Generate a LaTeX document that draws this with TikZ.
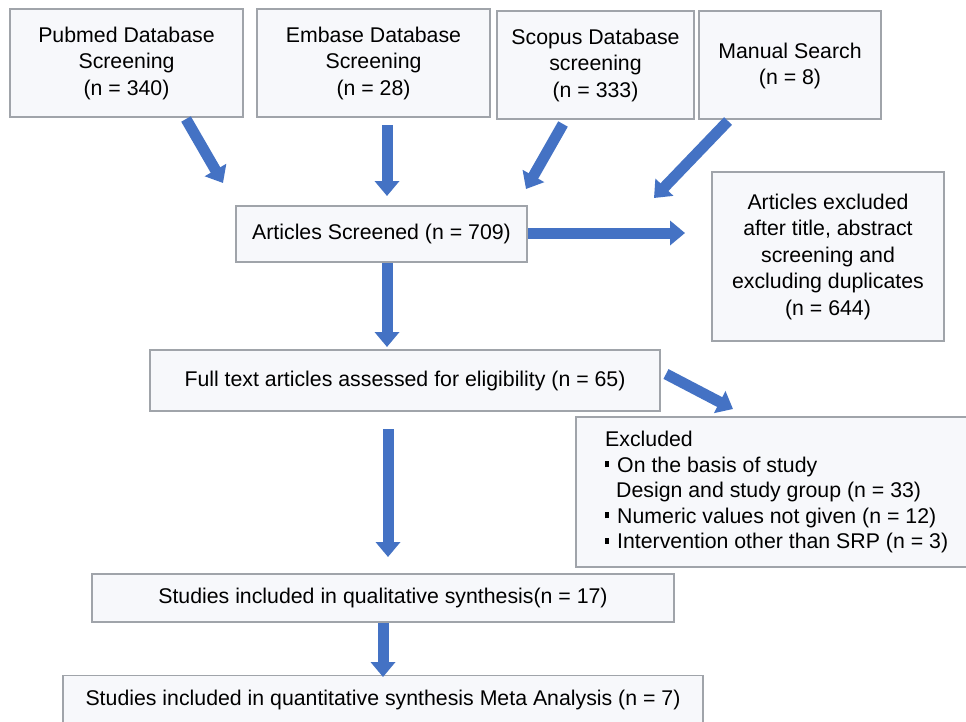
\documentclass[tikz,border=0pt]{standalone}
\usepackage{fontspec}
\setmainfont{Liberation Sans}
\usetikzlibrary{arrows.meta}
\definecolor{boxfill}{RGB}{247,248,251}
\definecolor{boxline}{RGB}{160,164,170}
\definecolor{arrblue}{RGB}{68,114,196}
\tikzset{
  flowbox/.style={draw=boxline, line width=1.3pt, fill=boxfill, align=center,
    inner sep=0pt, font=\fontsize{21.3}{26.5}\selectfont},
  blockarrow/.style={draw=arrblue, line width=11pt,
    -{Triangle[width=24pt,length=15pt]}},
}
\newcommand{\sqbul}{\rule[0.22em]{4pt}{6pt}\hspace{8pt}}
\begin{document}
\begin{tikzpicture}[x=1pt,y=-1pt]
\useasboundingbox (0,0) rectangle (966,721);
\fill[white] (0,0) rectangle (966,721);
% boxes
\node[flowbox, minimum width=233, minimum height=108] (pub) at (126.5,63)
  {Pubmed Database\\Screening\\(n = 340)};
\node[flowbox, minimum width=233, minimum height=108] (emb) at (373.5,63)
  {Embase Database\\Screening\\(n = 28)};
\node[flowbox, minimum width=197, minimum height=108] (sco) at (595.5,65)
  {Scopus Database\\screening\\(n = 333)};
\node[flowbox, minimum width=182, minimum height=108] (man) at (790,65) {};
\node[font=\fontsize{21.3}{26.5}\selectfont, align=center, inner sep=0pt] (mant) at (790,66)
  {Manual Search\\(n = 8)};
\node[flowbox, minimum width=291, minimum height=56] (scr) at (381.5,234)
  {Articles Screened (n = 709)};
\node[flowbox, minimum width=232, minimum height=169] (exa) at (828,256.5)
  {Articles excluded\\after title, abstract\\screening and\\excluding duplicates\\(n = 644)};
\node[flowbox, minimum width=510, minimum height=61] (full) at (405,380.5)
  {Full text articles assessed for eligibility (n = 65)};
\node[flowbox, minimum width=395, minimum height=150] (exb) at (773.5,492) {};
\node[anchor=north west, align=left, inner sep=0pt,
  font=\fontsize{21.3}{25.5}\selectfont] (exbt) at (605,431)
  {Excluded\\
   \sqbul On the basis of study\\
   \hspace{11pt}Design and study group (n = 33)\\
   \sqbul Numeric values not given (n = 12)\\
   \sqbul Intervention other than SRP (n = 3)};
\node[flowbox, minimum width=582, minimum height=48] (qual) at (383,598)
  {Studies included in qualitative synthesis(n = 17)};
\node[flowbox, minimum width=640, minimum height=52, anchor=north] (quant) at (383,675) {};
\node[font=\fontsize{21.3}{26.5}\selectfont, inner sep=0pt] (quantt) at (383,700)
  {Studies included in quantitative synthesis Meta Analysis (n = 7)};
% arrow end points
\coordinate (a1s) at (186,119);  \coordinate (a1e) at (223,183);
\coordinate (a2s) at (387,125);  \coordinate (a2e) at (387,196);
\coordinate (a3s) at (563,124);  \coordinate (a3e) at (526,189);
\coordinate (a4s) at (728,121);  \coordinate (a4e) at (654,198);
\coordinate (a5s) at (528,233);  \coordinate (a5e) at (685,233);
\coordinate (a6s) at (387,263);  \coordinate (a6e) at (387,347);
\coordinate (a7s) at (666,374);  \coordinate (a7e) at (733,409);
\coordinate (a8s) at (388,429);  \coordinate (a8e) at (388,557);
\coordinate (a9s) at (383,623);  \coordinate (a9e) at (383,677);
\foreach \i in {1,...,9} { \draw[blockarrow] (a\i s) -- (a\i e); }
\end{tikzpicture}
\end{document}
